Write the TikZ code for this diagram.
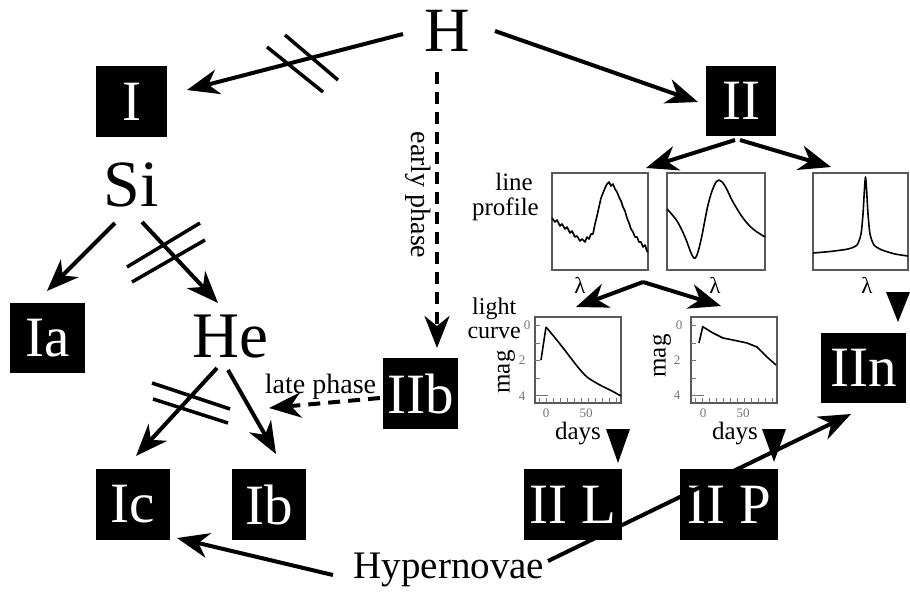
\documentclass[tikz,border=0pt]{standalone}
\usepackage{fontspec}
\setmainfont{Liberation Serif}
\usetikzlibrary{arrows.meta}
\newcommand{\fsz}[1]{\fontsize{#1}{#1}\selectfont}
\tikzset{
  box/.style={fill=black, text=white, inner sep=0pt, font=\fsz{57}},
  big/.style={inner sep=0pt, font=\fsz{64}},
  arr/.style={line width=4pt, -{Stealth[length=32pt,width=25pt,inset=10pt]}},
  dasharr/.style={arr, dash pattern=on 12pt off 8pt},
  strike/.style={line width=3.5pt},
  pbox/.style={draw=black!65, line width=1.1pt},
  crv/.style={line width=1.6pt, line join=round},
  tick/.style={draw=black!55, line width=0.8pt},
  ticklab/.style={text=black!55, font=\fsz{13}, inner sep=0pt},
  axlab/.style={font=\fsz{25}, inner sep=0pt},
  lam/.style={font=\fsz{23}, inner sep=0pt},
  tri/.style={fill=black},
}
\begin{document}
\begin{tikzpicture}[x=1pt,y=-1pt]
\useasboundingbox (0,0) rectangle (910,592);
% main labels
\node[big, font=\fsz{63}] (H) at (447,31) {H};
\node[big, font=\fsz{66}] (Si) at (131,185) {Si};
\node[big, font=\fsz{65}] (He) at (230,337) {He};
\node[inner sep=0pt, font=\fsz{39}, anchor=base] (Hyp) at (449,578) {Hypernovae};
% boxes
\node[box, minimum width=71, minimum height=71] (I) at (131.5,101.5) {I};
\node[box, minimum width=75, minimum height=70] (Ia) at (47.5,338) {Ia};
\node[box, minimum width=74, minimum height=71] (Ic) at (133,504.5) {Ic};
\node[box, minimum width=74, minimum height=71] (Ib) at (269,504.5) {Ib};
\node[box, minimum width=75, minimum height=71] (IIb) at (420.5,393.5) {IIb};
\node[box, minimum width=70, minimum height=70] (II) at (741,101) {II};
\node[box, minimum width=85, minimum height=70] (IIn) at (863.5,368) {IIn};
\node[box, minimum width=98, minimum height=71] (IIL) at (573,504.5) {II L};
\node[box, minimum width=98, minimum height=71] (IIP) at (729,504.5) {II P};
% connector end points
\coordinate (hI1) at (403,34);   \coordinate (hI2) at (187,90);
\coordinate (hII1) at (495,31);  \coordinate (hII2) at (698,102);
\coordinate (hB1) at (437,72);   \coordinate (hB2) at (437,348);
\coordinate (sA1) at (115,223);  \coordinate (sA2) at (47,291);
\coordinate (sH1) at (142,222);  \coordinate (sH2) at (218,303);
\coordinate (eC1) at (217,368);  \coordinate (eC2) at (136,456);
\coordinate (eB1) at (228,370);  \coordinate (eB2) at (276,454);
\coordinate (bB1) at (380,398);  \coordinate (bB2) at (269,408);
\coordinate (iiS1) at (735,140); \coordinate (iiL) at (646,168);
\coordinate (iiS2) at (740,140); \coordinate (iiR) at (831,167);
\coordinate (lcA) at (643,282);  \coordinate (lcL) at (576,307);
\coordinate (lcR) at (721,306);
\coordinate (hyC1) at (333,575); \coordinate (hyC2) at (177,538);
\coordinate (hyN1) at (548,561); \coordinate (hyN2) at (851,414);
% arrows
\draw[arr] (hI1) -- (hI2);
\draw[strike] (267,47) -- (323,92);
\draw[strike] (285,35) -- (338,80);
\draw[arr] (hII1) -- (hII2);
\draw[dasharr] (hB1) -- (hB2);
\node[font=\fsz{28}, inner sep=0pt, rotate=-90] (early) at (418,195) {early phase};
\draw[arr] (sA1) -- (sA2);
\draw[arr] (sH1) -- (sH2);
\draw[strike] (127,267) -- (200,223);
\draw[strike] (132,282) -- (205,240);
\draw[arr] (eC1) -- (eC2);
\draw[arr] (eB1) -- (eB2);
\draw[strike] (152,383) -- (230,409);
\draw[strike] (153,399) -- (228,423);
\draw[dasharr] (bB1) -- (bB2);
\node[font=\fsz{28}, inner sep=0pt, anchor=base] (late) at (320.5,393) {late phase};
\draw[arr] (iiS1) -- (iiL);
\draw[arr] (iiS2) -- (iiR);
% line profile panels
\node[axlab, anchor=base east] (lineL) at (533,190) {line};
\node[axlab, anchor=base east] (profL) at (539,215) {profile};
\draw[pbox] (552,173) rectangle (648,270);
\draw[pbox] (667,173) rectangle (765,270);
\draw[pbox] (813,173) rectangle (908,270);
\draw[crv] (552,218) -- (555,222) -- (557,220) -- (560,226) -- (562,224) -- (565,229) -- (567,227) -- (570,233) -- (572,231) -- (575,237) -- (577,236) -- (580,241) -- (582,239) -- (585,242) -- (587,237) -- (589,239) -- (591,234) -- (593,234) -- (595,224) -- (597,216) -- (599,207) -- (601,198) -- (603,193) -- (605,188) -- (607,184) -- (609,182) -- (611,186) -- (613,184) -- (615,189) -- (617,192) -- (619,197) -- (621,201) -- (623,207) -- (625,211) -- (627,218) -- (629,223) -- (631,229) -- (633,232) -- (635,237) -- (637,237) -- (639,242) -- (641,242) -- (643,247) -- (645,245) -- (647,251) -- (648,252);
\draw[crv] plot[smooth, tension=0.6] coordinates {(667,209) (677,221) (685,237) (692,255) (696,257) (701,240) (708,205) (714,186) (719,180) (725,186) (733,202) (743,218) (753,229) (765,237)};
\draw[crv] plot[smooth, tension=0.4] coordinates {(813,253) (830,251.5) (848,249) (857,245) (861,234) (863,214) (865.5,177) (868,214) (870,234) (874,245) (882,250) (895,254) (908,256)};
\node[lam] (lam1) at (580,285) {λ};
\node[lam] (lam2) at (715,285) {λ};
\node[lam] (lam3) at (867,285) {λ};
\draw[arr] (lcA) -- (lcL);
\draw[arr] (lcA) -- (lcR);
% light curve panels
\node[inner sep=0pt, font=\fontsize{24}{24}\selectfont, align=center, anchor=north east] (lcLab) at (521,298) {light\\curve};
\foreach \bx in {535, 691} {
  \draw[pbox] (\bx,317) rectangle (\bx+86,403);
  \foreach \ty in {325,343,360,378,395} \draw[tick] (\bx,\ty) -- (\bx+5,\ty);
  \draw[tick] (\bx,395) -- (\bx+13,395);
  \foreach \k in {0,...,11} \draw[tick] (\bx+4+7*\k,403) -- (\bx+4+7*\k,398);
}
\draw[crv] (541,360) -- (546,327) plot[smooth, tension=0.5] coordinates {(546,327) (556,339) (567,353) (577,366) (587,377) (600,385) (612,391) (621,396)};
\draw[crv] (699,343) -- (702.7,326.7) -- (713,333) -- (723,338) -- (733,340) -- (747,343) -- (757,347) -- (767,357) -- (776,365);
\node[ticklab] (t10) at (527,325) {0};
\node[ticklab] (t12) at (522,360) {2};
\node[ticklab] (t14) at (522,396) {4};
\node[ticklab] (b10) at (546,413) {0};
\node[ticklab] (b150) at (586,413) {50};
\node[ticklab] (t20) at (679,325) {0};
\node[ticklab] (t22) at (677,360) {2};
\node[ticklab] (t24) at (677,395) {4};
\node[ticklab] (b20) at (703,413) {0};
\node[ticklab] (b250) at (743,413) {50};
\node[axlab, rotate=90] (mag1) at (506,372) {mag};
\node[axlab, rotate=90] (mag2) at (662,356) {mag};
\node[axlab, anchor=base] (days1) at (578,439) {days};
\node[axlab, anchor=base] (days2) at (735,439) {days};
% triangles
\fill[tri] (606,429) -- (630,429) -- (618,463) -- cycle;
\fill[tri] (762,429) -- (786,429) -- (774,462) -- cycle;
\fill[tri] (886,292) -- (910,292) -- (898,322) -- cycle;
% hypernovae arrows
\draw[arr] (hyC1) -- (hyC2);
\draw[arr] (hyN1) -- (hyN2);
\end{tikzpicture}
\end{document}
